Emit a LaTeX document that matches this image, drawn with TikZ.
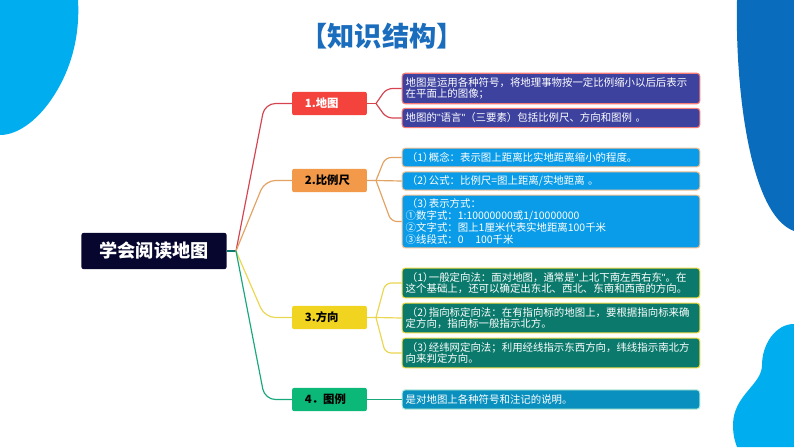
\documentclass[tikz,border=0pt]{standalone}
\usepackage{fontspec}
\setmainfont{Noto Sans CJK SC}
\newfontfamily\quotefont{Liberation Sans}
\usetikzlibrary{arrows.meta,positioning}
\definecolor{blobLight}{HTML}{00AEEF}
\definecolor{blobDark}{HTML}{0A6CBD}
\definecolor{titleBlue}{HTML}{1A6CBC}
\definecolor{rootFill}{HTML}{06062E}
\definecolor{mapFill}{HTML}{F4433C}
\definecolor{scaleFill}{HTML}{F39A4A}
\definecolor{dirFill}{HTML}{F0D41F}
\definecolor{legendFill}{HTML}{0CB878}
\definecolor{mapLeaf}{HTML}{3D429F}
\definecolor{scaleLeaf}{HTML}{0A9CE8}
\definecolor{dirLeaf}{HTML}{0B7A6C}
\definecolor{legendLeaf}{HTML}{0A90BE}
\definecolor{mapLink}{HTML}{D4434F}
\definecolor{scaleLink}{HTML}{E2A262}
\definecolor{dirLink}{HTML}{EAD650}
\definecolor{legendLink}{HTML}{18A87C}
\newcommand{\numTag}[1]{\hspace{1pt}（#1）\hspace{-4pt}}
\newcommand{\narrowQuote}{{\quotefont"}}
\tikzset{
  rootbox/.style={rectangle, rounded corners=2pt, fill=rootFill, text=white, font=\fontsize{15.5}{18}\selectfont\bfseries,
              minimum width=124pt, minimum height=31pt, inner sep=0pt},
  branchbox/.style={rectangle, rounded corners=2pt, font=\fontsize{9.7}{11}\selectfont\bfseries,
              minimum width=64pt, minimum height=20pt, inner sep=0pt, text width=42pt, align=left},
  leafbox/.style={rectangle, rounded corners=2.5pt, text=white, font=\fontsize{8.9}{10}\selectfont,
              line width=0.9pt, text width=248pt, inner xsep=3pt, inner ysep=0pt, align=left},
  linkLine/.style={line width=1pt, rounded corners=9pt},
  twigLine/.style={line width=1pt, rounded corners=5pt}
}
\begin{document}
\begin{tikzpicture}[x=0.03cm,y=-0.03cm]
\useasboundingbox (0,0) rectangle (794,447);

% Background blobs
\fill[blobLight] (0,0) -- (78,0) .. controls (80,35) and (72,68) .. (53,97) .. controls (40,117) and (20,135) .. (0,135) -- cycle;
\fill[blobDark] (737,0) .. controls (735,90) and (750,215) .. (794,231) -- (794,0) -- cycle;
\fill[blobLight] (794,324) .. controls (775,324) and (762,345) .. (762,365) .. controls (762,385) and (733,395) .. (733,425) .. controls (733,435) and (735,442) .. (737,447) -- (794,447) -- cycle;

% Title
\node[text=titleBlue, font=\fontsize{23.2}{28}\selectfont\bfseries] (title) at (382,36) {【知识结构】};

% Root and branches
\node[rootbox] (root) at (154,251) {学会阅读地图};
\node[branchbox, fill=mapFill, text=white] (map) at (329.5,103.5) {1.地图};
\node[branchbox, fill=scaleFill] (scale) at (329.5,180.5) {2.比例尺};
\node[branchbox, fill=dirFill] (dir) at (329.5,317.5) {3.方向};
\node[branchbox, fill=legendFill] (legend) at (329.5,399.5) {4．图例};

% Leaves of the map
\node[leafbox, fill=mapLeaf, draw=mapFill!70!white, minimum height=26pt] (mapA) at (551,88.5) {地图是运用各种符号，将地理事物按一定比例缩小以后后表示\\在平面上的图像；};
\node[leafbox, fill=mapLeaf, draw=mapFill!70!white, minimum height=16.5pt] (mapB) at (551,118) {地图的\narrowQuote 语言\narrowQuote（三要素）包括比例尺、方向和图例 。};

% Leaves of the scale
\node[leafbox, fill=scaleLeaf, draw=scaleFill!60!white, minimum height=16pt] (scaleA) at (551,157.5) {\numTag{1}概念：表示图上距离比实地距离缩小的程度。};
\node[leafbox, fill=scaleLeaf, draw=scaleFill!60!white, minimum height=15.5pt] (scaleB) at (551,181) {\numTag{2}公式：比例尺=图上距离/实地距离 。};
\node[leafbox, fill=scaleLeaf, draw=scaleFill!60!white, minimum height=45pt] (scaleC) at (551,221.5) {\numTag{3}表示方式：\\①数字式：1:10000000或1/10000000\\②文字式：图上1厘米代表实地距离100千米\\③线段式：0\hspace{10pt}100千米};

% Leaves of the direction
\node[leafbox, fill=dirLeaf, draw=dirFill!85!white, minimum height=25.5pt] (dirA) at (551,283) {\numTag{1}一般定向法：面对地图，通常是\narrowQuote 上北下南左西右东\narrowQuote。在\\这个基础上，还可以确定出东北、西北、东南和西南的方向。};
\node[leafbox, fill=dirLeaf, draw=dirFill!85!white, minimum height=25.5pt] (dirB) at (551,318) {\numTag{2}指向标定向法：在有指向标的地图上，要根据指向标来确\\定方向，指向标一般指示北方。};
\node[leafbox, fill=dirLeaf, draw=dirFill!85!white, minimum height=25.5pt] (dirC) at (551,353) {\numTag{3}经纬网定向法；利用经线指示东西方向，纬线指示南北方\\向来判定方向。};

% Leaf of the legend
\node[leafbox, fill=legendLeaf, draw=legendFill!30!white, minimum height=16.5pt] (legendA) at (551,399.5) {是对地图上各种符号和注记的说明。};

% Junctions
\coordinate (hub) at (236,251);
\coordinate (mapHub) at (376,103.5);
\coordinate (scaleHub) at (376,180.5);
\coordinate (dirHub) at (376,317.5);

% Root links
\draw[linkLine, dirLeaf] (root.east) -- (hub);
\draw[linkLine, mapLink] (hub) -- ([xshift=-23pt]map.west) -- (map.west);
\draw[linkLine, scaleLink] (hub) -- ([xshift=-23pt]scale.west) -- (scale.west);
\draw[linkLine, dirLink] (hub) -- ([xshift=-23pt]dir.west) -- (dir.west);
\draw[linkLine, legendLink] (hub) -- ([xshift=-23pt]legend.west) -- (legend.west);

% Branch links
\draw[twigLine, mapLink] (map.east) -- (mapHub);
\draw[twigLine, mapLink] (mapHub) -- ([xshift=-13pt]mapA.west) -- (mapA.west);
\draw[twigLine, mapLink] (mapHub) -- ([xshift=-13pt]mapB.west) -- (mapB.west);
\draw[twigLine, scaleLink] (scale.east) -- (scaleHub) -- (scaleB.west);
\draw[twigLine, scaleLink] (scaleHub) -- ([xshift=-14pt]scaleA.west) -- (scaleA.west);
\draw[twigLine, scaleLink] (scaleHub) -- ([xshift=-9pt]scaleC.west) -- (scaleC.west);
\draw[twigLine, dirLink] (dir.east) -- (dirHub) -- (dirB.west);
\draw[twigLine, dirLink] (dirHub) -- ([xshift=-14pt]dirA.west) -- (dirA.west);
\draw[twigLine, dirLink] (dirHub) -- ([xshift=-14pt]dirC.west) -- (dirC.west);
\draw[twigLine, legendLink] (legend.east) -- (legendA.west);

\end{tikzpicture}
\end{document}
